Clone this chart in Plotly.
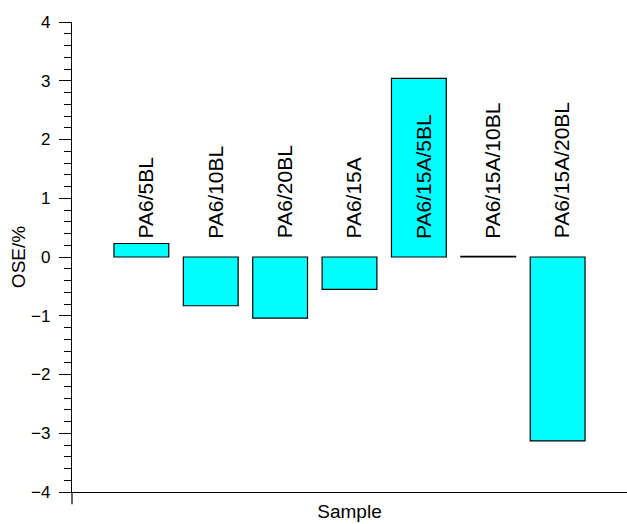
import plotly.graph_objects as go

# OSE values per sample (%)
samples = ["PA6/5BL", "PA6/10BL", "PA6/20BL", "PA6/15A",
           "PA6/15A/5BL", "PA6/15A/10BL", "PA6/15A/20BL"]
ose = [0.23, -0.83, -1.04, -0.55, 3.04, 0.01, -3.13]

y_ticks = [-4, -3, -2, -1, 0, 1, 2, 3, 4]
label_level = 0.28

font_family = "Liberation Sans, Arial, sans-serif"

fig = go.Figure()
fig.add_trace(go.Bar(
    x=list(range(len(samples))),
    y=ose,
    width=0.79,
    marker=dict(color="#00FFFF", line=dict(color="#000000", width=1.2)),
    hoverinfo="skip",
))

for i, name in enumerate(samples):
    fig.add_annotation(
        x=i, y=label_level, text=name, textangle=-90,
        xanchor="center", yanchor="bottom", showarrow=False,
        xshift=4, font=dict(size=21, color="black", family=font_family),
    )

# y-axis line continues a little below the x-axis
fig.add_shape(type="line", xref="paper", yref="paper",
              x0=0, x1=0, y0=0, y1=-0.026,
              line=dict(color="black", width=1.2))

fig.update_layout(
    width=627, height=524,
    margin=dict(l=72, r=0, t=22, b=32),
    paper_bgcolor="white", plot_bgcolor="white",
    showlegend=False,
    font=dict(family=font_family, color="black"),
    xaxis=dict(
        range=[-1, 7], showticklabels=False, ticks="",
        showgrid=False, zeroline=False, showline=True,
        linecolor="black", linewidth=1.2,
        title=dict(text="Sample", font=dict(size=19), standoff=12),
    ),
    yaxis=dict(
        range=[-4, 4], tickvals=y_ticks, ticks="outside", ticklen=12,
        tickwidth=1.2, tickcolor="black", ticklabelstandoff=5,
        minor=dict(dtick=0.2, ticks="outside", ticklen=7,
                   tickwidth=1.2, tickcolor="black"),
        showgrid=False, zeroline=False, showline=True,
        linecolor="black", linewidth=1.2,
        tickfont=dict(size=17),
        title=dict(text="OSE/%", font=dict(size=19), standoff=0),
    ),
)

fig.write_html("out.html")
